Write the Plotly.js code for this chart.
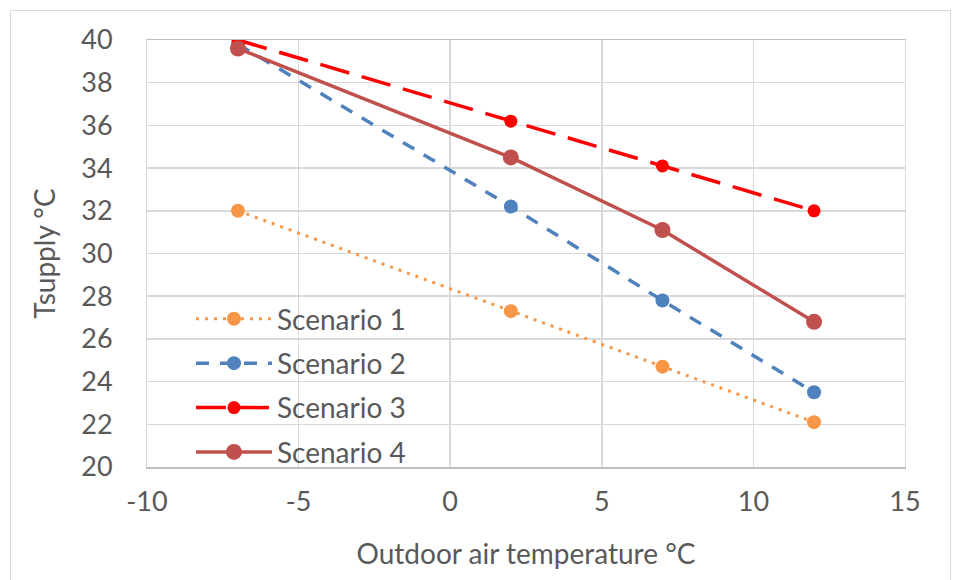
<!DOCTYPE html>
<html>
<head>
<meta charset="utf-8">
<script src="https://cdn.plot.ly/plotly-3.0.1.min.js"></script>
<style>
body{margin:0;padding:0;background:#fff;}
#wrap{position:relative;width:955px;height:580px;}
#chart{width:955px;height:580px;}
#frame{position:absolute;left:10px;top:10px;width:941px;height:580px;border:1px solid #d9d9d9;border-bottom:none;pointer-events:none;box-sizing:border-box;}
</style>
</head>
<body>
<div id="wrap"><div id="chart"></div><div id="frame"></div></div>
<script>
const temps = [-7, 2, 7, 12];
const scenario1 = [32.0, 27.3, 24.7, 22.1];
const scenario2 = [39.8, 32.2, 27.8, 23.5];
const scenario3 = [40.0, 36.2, 34.1, 32.0];
const scenario4 = [39.6, 34.5, 31.1, 26.8];
const names = ["Scenario 1", "Scenario 2", "Scenario 3", "Scenario 4"];
const xTickVals = [-10, -5, 0, 5, 10, 15];
const xTickText = ["-10", "-5", "0", "5", "10", "15"];
const yTickVals = [20, 22, 24, 26, 28, 30, 32, 34, 36, 38, 40];
const yTickText = ["20", "22", "24", "26", "28", "30", "32", "34", "36", "38", "40"];

const font = "Lato, 'Open Sans', sans-serif";
const traces = [
  {x: temps, y: scenario1, name: names[0], legendgroup: "g1", mode: "lines+markers",
   line: {color: "#F79646", width: 3, dash: "3px,6px"}, marker: {color: "#F79646", size: 14, symbol: "circle"}},
  {x: temps, y: scenario2, name: names[1], legendgroup: "g2", mode: "lines+markers",
   line: {color: "#4F81BD", width: 3.5, dash: "13px,11px"}, marker: {color: "#4F81BD", size: 14}},
  {x: temps, y: scenario3, name: names[2], legendgroup: "g3", mode: "lines+markers",
   line: {color: "#FF0000", width: 3.5, dash: "30px,13px"}, marker: {color: "#FF0000", size: 13}},
  {x: temps, y: scenario4, name: names[3], legendgroup: "g4", mode: "lines+markers",
   line: {color: "#C0504D", width: 3.5}, marker: {color: "#C0504D", size: 16}}
];

const layout = {
  width: 955, height: 580,
  margin: {l: 147, r: 50, t: 40, b: 113},
  paper_bgcolor: "#fff", plot_bgcolor: "#fff",
  font: {family: font, color: "#595959", size: 27},
  showlegend: true,
  legend: {x: 0.058, y: 0.405, xanchor: "left", yanchor: "top", bgcolor: "rgba(0,0,0,0)",
           font: {size: 28, color: "#595959", family: font}, tracegroupgap: 5, itemwidth: 76,
           traceorder: "grouped"},
  xaxis: {range: [-10, 15], tickmode: "array", tickvals: xTickVals, ticktext: xTickText,
          showgrid: true, gridcolor: "#d9d9d9", gridwidth: 1.5,
          zeroline: false, showline: true, linecolor: "#bfbfbf", linewidth: 1.5, mirror: true, ticks: "",
          tickfont: {size: 27}, ticklabelstandoff: 10,
          title: {text: "Outdoor air temperature °C", font: {size: 28, color: "#595959"}, standoff: 28}},
  yaxis: {range: [20, 40], tickmode: "array", tickvals: yTickVals, ticktext: yTickText,
          showgrid: true, gridcolor: "#d9d9d9", gridwidth: 1.5,
          zeroline: false, showline: true, linecolor: "#d9d9d9", linewidth: 1, mirror: true, ticks: "",
          tickfont: {size: 27}, ticklabelstandoff: 28,
          title: {text: "Tsupply °C", font: {size: 28, color: "#595959"}, standoff: 17}}
};
Plotly.newPlot("chart", traces, layout, {displayModeBar: false, staticPlot: true});
</script>
</body>
</html>
